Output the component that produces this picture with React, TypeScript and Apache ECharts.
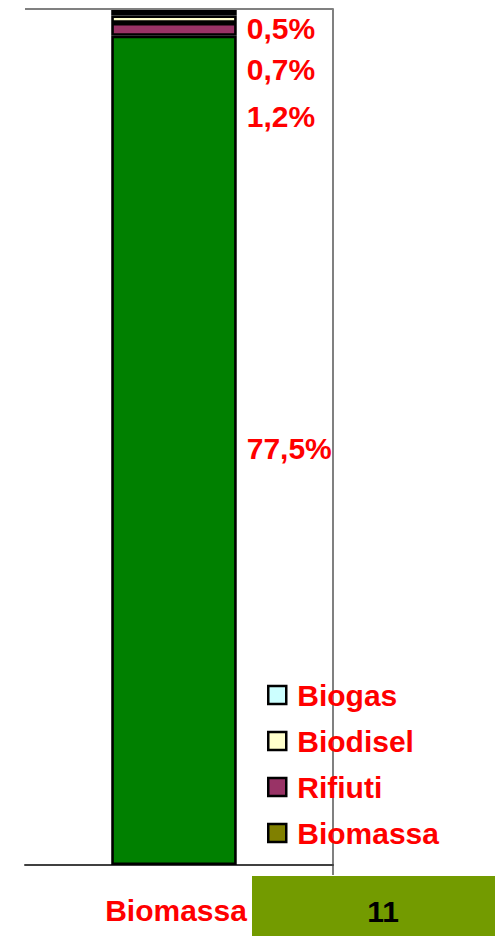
import React, { useEffect, useRef } from "react";
import * as echarts from "echarts";

const categories = ["Biomassa"];
const seriesNames = ["Biomassa", "Rifiuti", "Biodisel", "Biogas"];
const seriesValues = [77.5, 1.2, 0.7, 0.5];
const legendOrder = ["Biogas", "Biodisel", "Rifiuti", "Biomassa"];
const tableValue = "11";
const yMax = 80;

const barColors = ["#008000", "#993366", "#FFFFCC", "#CCFFFF"];
const legendColors: Record<string, string> = {
  Biomassa: "#808000",
  Rifiuti: "#993366",
  Biodisel: "#FFFFCC",
  Biogas: "#CCFFFF",
};
const labelOffsets = [[0, -2], [0, 87], [0, 50], [0, 16]];

const FONT = "'Liberation Sans', Arial, sans-serif";

export default function App() {
  const ref = useRef<HTMLDivElement>(null);
  useEffect(() => {
    if (!ref.current) return;
    const chart = echarts.init(ref.current, null, { renderer: "svg" });
    const gridLeft = 25;
    const gridRight = 162;
    const gridTop = 9;
    const gridBottom = 71;
    const W = 495;
    const H = 936;
    const axisY = H - gridBottom;
    const rightX = W - gridRight;
    const barSeries = seriesNames.map((name, i) => ({
      name,
      type: "bar",
      stack: "total",
      barWidth: 125.5,
      barGap: "7.2%",
      data: [seriesValues[i]],
      itemStyle: { color: barColors[i], borderColor: "#000", borderWidth: 2.6 },
      label: {
        show: true,
        position: "right",
        distance: 10,
        offset: labelOffsets[i],
        formatter: (p: any) => p.value.toFixed(1).replace(".", ",") + "%",
        color: "#FF0000",
        fontFamily: FONT,
        fontWeight: "bold",
        fontSize: 30,
      },
    }));
    // invisible spacer column: shifts the stacked bar slightly left within the band
    const spacer = {
      name: "_spacer",
      type: "bar",
      barWidth: 1,
      barGap: "7.2%",
      data: ["-"],
      silent: true,
      itemStyle: { color: "transparent" },
    };
    chart.setOption({
      animation: false,
      backgroundColor: "#ffffff",
      grid: { left: gridLeft, right: gridRight, top: gridTop, bottom: gridBottom },
      legend: {
        orient: "vertical",
        left: 267,
        top: 680,
        padding: 0,
        itemWidth: 18,
        itemHeight: 18,
        itemGap: 16,
        icon: "rect",
        selectedMode: false,
        data: legendOrder.map((n) => ({
          name: n,
          itemStyle: { color: legendColors[n], borderColor: "#000", borderWidth: 2.5 },
        })),
        textStyle: {
          color: "#FF0000",
          fontFamily: FONT,
          fontWeight: "bold",
          fontSize: 30,
          lineHeight: 30,
          padding: [0, 0, 0, 6],
        },
      },
      xAxis: {
        type: "category",
        data: categories,
        axisLine: { show: true, lineStyle: { color: "#404040", width: 2 } },
        axisTick: { show: false },
        axisLabel: {
          color: "#FF0000",
          fontFamily: FONT,
          fontWeight: "bold",
          fontSize: 30,
          lineHeight: 30,
          margin: 30,
          padding: [0, 6, 0, 0],
        },
      },
      yAxis: {
        type: "value",
        min: 0,
        max: yMax,
        interval: yMax,
        position: "right",
        axisLine: { show: true, lineStyle: { color: "#808080", width: 2 } },
        axisTick: { show: false },
        axisLabel: { show: false },
        splitLine: { show: true, lineStyle: { color: "#808080", width: 2 } },
      },
      series: [...barSeries, spacer],
      graphic: [
        {
          type: "line",
          shape: { x1: rightX, y1: axisY, x2: rightX, y2: axisY + 10 },
          style: { stroke: "#808080", lineWidth: 2 },
        },
        {
          type: "rect",
          shape: { x: 252, y: 876, width: W - 252, height: H - 876 },
          style: { fill: "#739B00" },
        },
        {
          type: "text",
          x: 383,
          y: 911,
          style: {
            text: tableValue,
            fill: "#000",
            font: "bold 30px " + FONT,
            textAlign: "center",
            textVerticalAlign: "middle",
          },
        },
      ],
    });
    return () => chart.dispose();
  }, []);
  return (
    <div
      ref={ref}
      style={{ position: "absolute", left: 0, top: 0, width: 495, height: 936 }}
    />
  );
}
